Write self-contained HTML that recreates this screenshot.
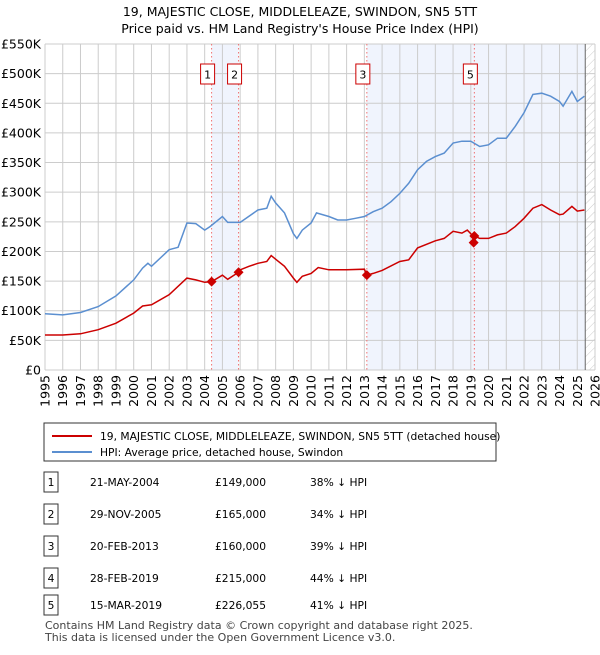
<!DOCTYPE html>
<html><head><meta charset="utf-8"><style>
body{margin:0;background:#fff;font-family:"Liberation Sans","DejaVu Sans",sans-serif;}
svg text{font-family:"DejaVu Sans","Liberation Sans",sans-serif;}
</style></head><body>
<svg id="c" width="600" height="650" xmlns="http://www.w3.org/2000/svg">
<defs><pattern id="hatch" width="6" height="6" patternUnits="userSpaceOnUse" patternTransform="rotate(45)"><line x1="0" y1="0" x2="0" y2="6" stroke="#ccc" stroke-width="1"/></pattern></defs>
<text x="300" y="16" text-anchor="middle" font-size="12.5">19, MAJESTIC CLOSE, MIDDLELEAZE, SWINDON, SN5 5TT</text>
<text x="300" y="33" text-anchor="middle" font-size="12.5">Price paid vs. HM Land Registry's House Price Index (HPI)</text>
<g id="plot"></g>
<rect x="44" y="423" width="452" height="38" fill="#fff" stroke="#333"/>
<line x1="52" y1="436" x2="92" y2="436" stroke="#cc0000" stroke-width="2"/>
<text x="100" y="440" font-size="10.7">19, MAJESTIC CLOSE, MIDDLELEAZE, SWINDON, SN5 5TT (detached house)</text>
<line x1="52" y1="452" x2="92" y2="452" stroke="#5b8fd0" stroke-width="2"/>
<text x="100" y="456" font-size="10.7">HPI: Average price, detached house, Swindon</text>
<g id="tbl"></g>
<text x="45" y="629" font-size="11" fill="#444">Contains HM Land Registry data © Crown copyright and database right 2025.</text>
<text x="45" y="641" font-size="11" fill="#444">This data is licensed under the Open Government Licence v3.0.</text>
</svg>
<script>
const hpiYears=[1995,1996,1997,1998,1999,2000,2000.5,2000.8,2001,2002,2002.5,2003,2003.5,2004,2004.3,2005,2005.3,2006,2007,2007.5,2007.75,2008,2008.5,2009,2009.2,2009.5,2010,2010.3,2011,2011.5,2012,2012.5,2013,2013.5,2014,2014.5,2015,2015.5,2016,2016.5,2017,2017.5,2018,2018.5,2019,2019.5,2020,2020.5,2021,2021.5,2022,2022.5,2023,2023.5,2024,2024.2,2024.7,2025,2025.4];
const hpiValues=[95,93,97,107,125,152,172,180,175,203,207,248,247,236,242,259,249,249,270,273,293,282,265,230,222,236,248,265,259,253,253,256,259,267,273,284,298,315,338,352,360,366,383,386,386,377,380,391,391,411,434,465,467,462,453,445,470,453,462];
const ppYears=[1995,1996,1997,1998,1999,2000,2000.5,2001,2002,2003,2003.5,2004,2004.39,2005,2005.3,2005.91,2006,2006.5,2007,2007.5,2007.75,2008,2008.5,2009,2009.2,2009.5,2010,2010.4,2011,2012,2013,2013.14,2013.5,2014,2015,2015.5,2016,2017,2017.5,2018,2018.5,2018.8,2019.16,2019.2,2019.5,2020,2020.5,2021,2021.5,2022,2022.5,2023,2023.5,2024,2024.2,2024.7,2025,2025.4];
const ppValues=[59,59,61,68,79,96,108,110,127,155,152,148,149,160,153,165,169,175,180,183,193,187,175,155,148,158,163,173,169,169,170,160,163,168,183,186,206,218,222,234,231,236,225,226,222,222,228,231,242,256,273,279,270,262,263,276,268,270];
const saleIds=["1","2","3","4","5"];
const saleYears=[2004.39,2005.91,2013.14,2019.16,2019.2];
const salePrices=[149,165,160,215,226.055];
const saleDates=["21-MAY-2004","29-NOV-2005","20-FEB-2013","28-FEB-2019","15-MAR-2019"];
const salePriceLabels=["£149,000","£165,000","£160,000","£215,000","£226,055"];
const saleHpiLabels=["38% ↓ HPI","34% ↓ HPI","39% ↓ HPI","44% ↓ HPI","41% ↓ HPI"];
const yTicks=[0,50,100,150,200,250,300,350,400,450,500,550];
const yTickLabels=["£0","£50K","£100K","£150K","£200K","£250K","£300K","£350K","£400K","£450K","£500K","£550K"];
const xTicks=[1995,1996,1997,1998,1999,2000,2001,2002,2003,2004,2005,2006,2007,2008,2009,2010,2011,2012,2013,2014,2015,2016,2017,2018,2019,2020,2021,2022,2023,2024,2025,2026];

const L=45,R=595,T=44,B=370,X0=1995,X1=2026,YMAX=550;
const sx=v=>L+(v-X0)/(X1-X0)*(R-L);
const sy=v=>B-v/YMAX*(B-T);
const NS="http://www.w3.org/2000/svg";
const plot=document.getElementById('plot');
function mk(tag,attrs,parent){const e=document.createElementNS(NS,tag);for(const k in attrs)e.setAttribute(k,attrs[k]);(parent||plot).appendChild(e);return e;}

let e=mk('rect',{x:sx(saleYears[0]),y:T,width:sx(saleYears[1])-sx(saleYears[0]),height:B-T,fill:'#f0f4fd'});


e=mk('rect',{x:sx(saleYears[2]),y:T,width:sx(2025.45)-sx(saleYears[2]),height:B-T,fill:'#f0f4fd'});


e=mk('rect',{x:sx(2025.45),y:T,width:R-sx(2025.45),height:B-T,fill:'url(#hatch)'});



yTicks.forEach((v,i)=>{
  let g=mk('line',{x1:L,x2:R,y1:sy(v),y2:sy(v),stroke:'#ccc','stroke-width':1});
  
  
  let t=mk('text',{x:L-4,y:sy(v)+4.5,'text-anchor':'end','font-size':12.5});
  t.textContent=yTickLabels[i];
  
  
});
xTicks.forEach(v=>{
  let g=mk('line',{x1:sx(v),x2:sx(v),y1:T,y2:B,stroke:'#ccc','stroke-width':1});
  
  
  let t=mk('text',{x:0,y:0,'text-anchor':'end','font-size':12.5,transform:`translate(${sx(v)+4.5},${B+5}) rotate(-90)`});
  t.textContent=v;
  
  
});
e=mk('line',{x1:sx(2025.45),x2:sx(2025.45),y1:T,y2:B,stroke:'#666','stroke-width':1});



saleYears.forEach((v,i)=>{
  if(i===3)return;
  let l=mk('line',{x1:sx(v),x2:sx(v),y1:T,y2:B,stroke:'#f07070','stroke-width':1,'stroke-dasharray':'1.5,2.5'});
  
  
});

function path(xs,ys){return xs.map((x,i)=>(i?'L':'M')+sx(x).toFixed(1)+','+sy(ys[i]).toFixed(1)).join('');}
e=mk('path',{d:path(hpiYears,hpiValues),fill:'none',stroke:'#5b8fd0','stroke-width':1.5});


e=mk('path',{d:path(ppYears,ppValues),fill:'none',stroke:'#cc0000','stroke-width':1.5});



saleYears.forEach((v,i)=>{
  let x=sx(v),y=sy(salePrices[i]);
  let p=mk('path',{d:`M${x},${y-5}L${x+5},${y}L${x},${y+5}L${x-5},${y}Z`,fill:'#cc0000'});
  
  
  if(i===3)return;
  let g=mk('g',{});
  
  
  mk('rect',{x:x-11,y:64,width:14,height:20,fill:'#fff',stroke:'#cc0000'},g);
  let t=mk('text',{x:x-4,y:78.5,'text-anchor':'middle','font-size':11},g);
  t.textContent=saleIds[i];
});

const tbl=document.getElementById('tbl');
const rowY=[482,514,546,578,605];
saleIds.forEach((id,i)=>{
  const y=rowY[i];
  let g=mk('g',{},tbl);
  
  
  mk('rect',{x:44,y:y-10,width:14,height:20,fill:'#fff',stroke:'#333'},g);
  let t=mk('text',{x:51,y:y+4,'text-anchor':'middle','font-size':10.7},g);t.textContent=id;
  t=mk('text',{x:90,y:y+4,'font-size':10.7},g);t.textContent=saleDates[i];
  t=mk('text',{x:215,y:y+4,'font-size':10.7},g);t.textContent=salePriceLabels[i];
  t=mk('text',{x:310,y:y+4,'font-size':10.7},g);t.textContent=saleHpiLabels[i];
});
</script>
</body></html>
